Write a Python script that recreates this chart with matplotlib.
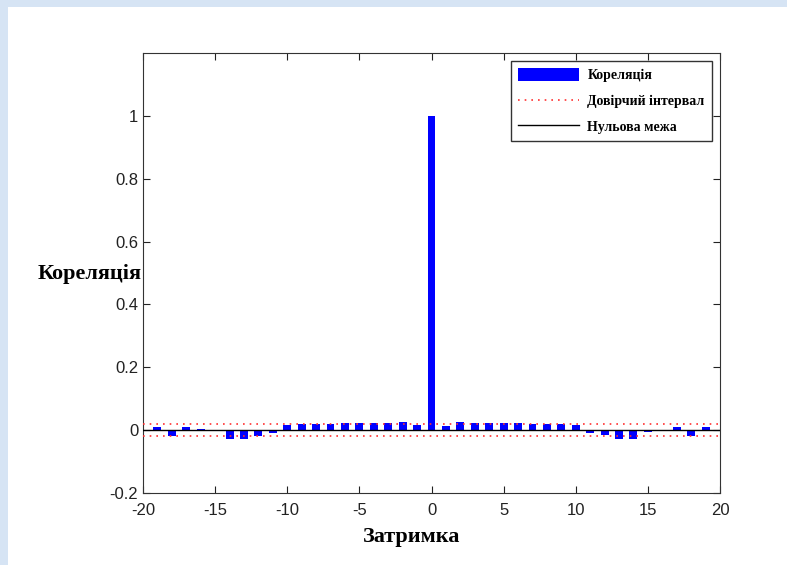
import numpy as np
import matplotlib.pyplot as plt
from matplotlib.patches import Rectangle

plt.rcParams['font.family'] = ['Liberation Sans', 'DejaVu Sans']
plt.rcParams['axes.unicode_minus'] = False

# autocorrelation values by lag
lags = list(range(-19, 20))
corr = [0.010, -0.020, 0.010, 0.003, -0.004, -0.028, -0.028, -0.018, -0.010,
        0.016, 0.019, 0.019, 0.019, 0.022, 0.022, 0.022, 0.022, 0.026, 0.016,
        1.000,
        0.014, 0.026, 0.022, 0.022, 0.022, 0.022, 0.019, 0.019, 0.019, 0.016,
        -0.010, -0.016, -0.028, -0.028, -0.005, 0.001, 0.010, -0.020, 0.010]
conf = 0.019
x_range = [-20, 20]

fig = plt.figure(figsize=(7.87, 5.65), dpi=100)
fig.patch.set_facecolor('#d6e4f4')
fig.patches.append(Rectangle((8 / 787, 0), 1, 1 - 7 / 565, transform=fig.transFigure,
                             facecolor='white', edgecolor='none', zorder=-10))

ax = fig.add_axes([143 / 787, 1 - 493 / 565, 577 / 787, 440 / 565])
bars = ax.bar(lags, corr, width=0.55, color='#0000ff', label='Кореляція', zorder=2)
ci, = ax.plot(x_range, [conf, conf], color='#ff3030', linestyle=(0, (1, 3)), linewidth=1.2,
              label='Довірчий інтервал', zorder=3)
ax.plot(x_range, [-conf, -conf], color='#ff3030', linestyle=(0, (1, 3)), linewidth=1.2, zorder=3)
zl, = ax.plot(x_range, [0, 0], color='black', linewidth=1, label='Нульова межа', zorder=4)

ax.set_xlim(-20, 20)
ax.set_ylim(-0.2, 1.2)
ax.set_xticks(range(-20, 21, 5))
ax.set_yticks([-0.2, 0, 0.2, 0.4, 0.6, 0.8, 1])
ax.set_yticklabels(['-0.2', '0', '0.2', '0.4', '0.6', '0.8', '1'])
ax.tick_params(direction='in', top=True, right=True, labelsize=12, length=5,
               colors='#222222', labelcolor='#222222')
ax.tick_params(axis='x', pad=7)
for s in ax.spines.values():
    s.set_color('#333333')

serif = ['Liberation Serif', 'DejaVu Serif']
ax.set_xlabel('Затримка', family=serif, fontweight='bold', fontsize=16, va='center')
ax.xaxis.set_label_coords(0.466, -0.1)
ax.set_ylabel('Кореляція', family=serif, fontweight='bold', fontsize=16,
              rotation=0, ha='right', va='center')
ax.yaxis.set_label_coords(-0.002, 0.497)

leg = ax.legend([bars, ci, zl], ['Кореляція', 'Довірчий інтервал', 'Нульова межа'],
                loc='upper right', prop={'family': serif, 'weight': 'bold', 'size': 10},
                fancybox=False, edgecolor='#333333', framealpha=1,
                borderaxespad=0.6, borderpad=0.5, handlelength=4.4, handleheight=1.0,
                handletextpad=0.6, labelspacing=0.85)
leg.get_frame().set_linewidth(1)

fig.savefig('out.png', dpi=100, facecolor=fig.get_facecolor())
